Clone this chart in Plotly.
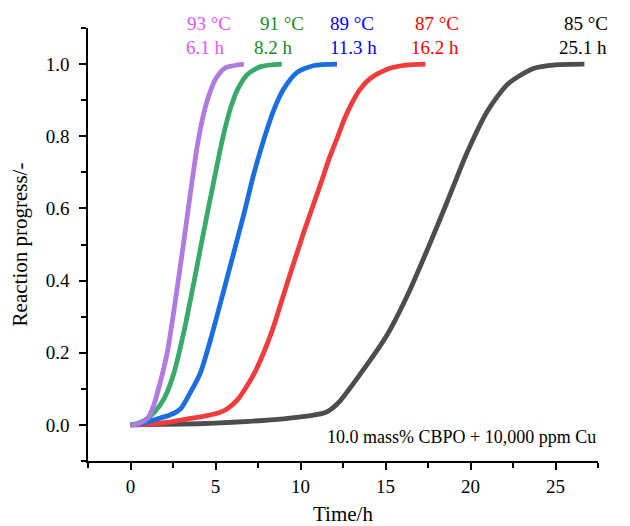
import plotly.graph_objects as go

# Data
t_85 = [0, 3, 5, 7, 9, 10.5, 11.5, 12.2, 13.5, 15.1, 16.3, 17.5, 18.6, 19.8, 21.0, 22.2, 23.7, 25.0, 26.7]
p_85 = [0, 0.002, 0.005, 0.01, 0.017, 0.025, 0.035, 0.06, 0.14, 0.25, 0.36, 0.49, 0.615, 0.755, 0.87, 0.945, 0.988, 0.998, 1.0]

t_87 = [0, 0.6, 2.0, 3.3, 4.5, 5.2, 5.7, 6.3, 7.25, 8.25, 9.2, 10.2, 11.2, 11.7, 12.2, 12.6, 13.0, 13.5, 14.1, 15.1, 16.2, 17.35]
p_87 = [0, 0.001, 0.006, 0.016, 0.026, 0.034, 0.045, 0.07, 0.14, 0.25, 0.39, 0.535, 0.67, 0.74, 0.80, 0.85, 0.89, 0.93, 0.96, 0.986, 0.997, 1.0]

t_89 = [0, 0.6, 1.4, 2.35, 2.95, 3.5, 4.1, 4.7, 5.5, 6.2, 6.7, 7.25, 7.85, 8.45, 9.0, 9.8, 10.8, 12.15]
p_89 = [0, 0.003, 0.014, 0.028, 0.045, 0.088, 0.143, 0.235, 0.375, 0.5, 0.59, 0.695, 0.792, 0.875, 0.93, 0.977, 0.996, 1.0]

t_91 = [0, 0.4, 0.8, 1.4, 2.0, 2.55, 3.15, 3.75, 4.2, 4.6, 4.9, 5.2, 5.5, 5.9, 6.3, 6.85, 7.65, 8.9]
p_91 = [0, 0.004, 0.012, 0.035, 0.075, 0.143, 0.26, 0.40, 0.51, 0.605, 0.675, 0.745, 0.81, 0.88, 0.93, 0.97, 0.993, 1.0]

t_93 = [0, 0.4, 1.0, 1.37, 1.76, 2.16, 2.5, 2.84, 3.14, 3.4, 3.65, 3.9, 4.15, 4.4, 4.7, 5.05, 5.6, 6.67]
p_93 = [0, 0.002, 0.018, 0.055, 0.12, 0.2, 0.3, 0.41, 0.51, 0.6, 0.685, 0.765, 0.83, 0.88, 0.925, 0.962, 0.99, 1.0]

temp_labels = ["85 °C", "87 °C", "89 °C", "91 °C", "93 °C"]
time_labels = ["25.1 h", "16.2 h", "11.3 h", "8.2 h", "6.1 h"]
label_x_temp = [26.8, 18.0, 13.0, 8.9, 4.6]
label_x_time = [26.6, 17.9, 13.1, 8.4, 4.4]

line_colors = ["#4d4d4d", "#f03c3c", "#1a6ee0", "#3aaa6a", "#b07ae0"]
text_colors = ["#000000", "#ff0000", "#0000ff", "#1a8a1a", "#e056fd"]

series_t = [t_85, t_87, t_89, t_91, t_93]
series_p = [p_85, p_87, p_89, p_91, p_93]

FONT = "Liberation Serif"

fig = go.Figure()
for t, p, c, name in zip(series_t, series_p, line_colors, temp_labels):
    fig.add_trace(go.Scatter(x=t, y=p, mode="lines", name=name,
                             line=dict(color=c, width=4.8, shape="spline", smoothing=0.7),
                             showlegend=False))

for i in range(len(temp_labels)):
    fig.add_annotation(x=label_x_temp[i], y=1.0115, xref="x", yref="paper", text=temp_labels[i],
                       showarrow=False, xanchor="center", yanchor="middle",
                       font=dict(family=FONT, size=19, color=text_colors[i]))
    fig.add_annotation(x=label_x_time[i], y=0.954, xref="x", yref="paper", text=time_labels[i],
                       showarrow=False, xanchor="center", yanchor="middle",
                       font=dict(family=FONT, size=19, color=text_colors[i]))

fig.add_annotation(x=27.5, y=-0.033, xref="x", yref="y", xanchor="right", yanchor="middle",
                   text="10.0 mass% CBPO + 10,000 ppm Cu", showarrow=False,
                   font=dict(family=FONT, size=18, color="black"))

axis_common = dict(showline=True, linecolor="black", linewidth=1.5, ticks="outside",
                   ticklen=7, tickwidth=1.5, tickcolor="black", showgrid=False, zeroline=False,
                   tickfont=dict(family=FONT, size=19, color="black"),
                   mirror=False, automargin=False)

fig.update_xaxes(range=[-2.5, 27.5], tickvals=[0, 5, 10, 15, 20, 25],
                 minor=dict(dtick=2.5, tick0=0, ticks="outside", ticklen=5, tickwidth=1.5, tickcolor="black", showgrid=False),
                 title=dict(text="Time/h", font=dict(family=FONT, size=21, color="black"), standoff=14),
                 **axis_common)
fig.update_yaxes(range=[-0.1, 1.1], tickvals=[0, 0.2, 0.4, 0.6, 0.8, 1.0], tickformat=".1f",
                 ticklabelstandoff=6,
                 minor=dict(dtick=0.1, tick0=0, ticks="outside", ticklen=5, tickwidth=1.5, tickcolor="black", showgrid=False),
                 title=dict(text="Reaction progress/-", font=dict(family=FONT, size=21, color="black"), standoff=14),
                 **axis_common)

# The page places the figure 8 px in from the window's top-left corner.
fig.update_layout(width=622, height=518, margin=dict(l=80, r=32, t=20, b=65),
                  plot_bgcolor="white", paper_bgcolor="white")

fig.write_html("out.html")
